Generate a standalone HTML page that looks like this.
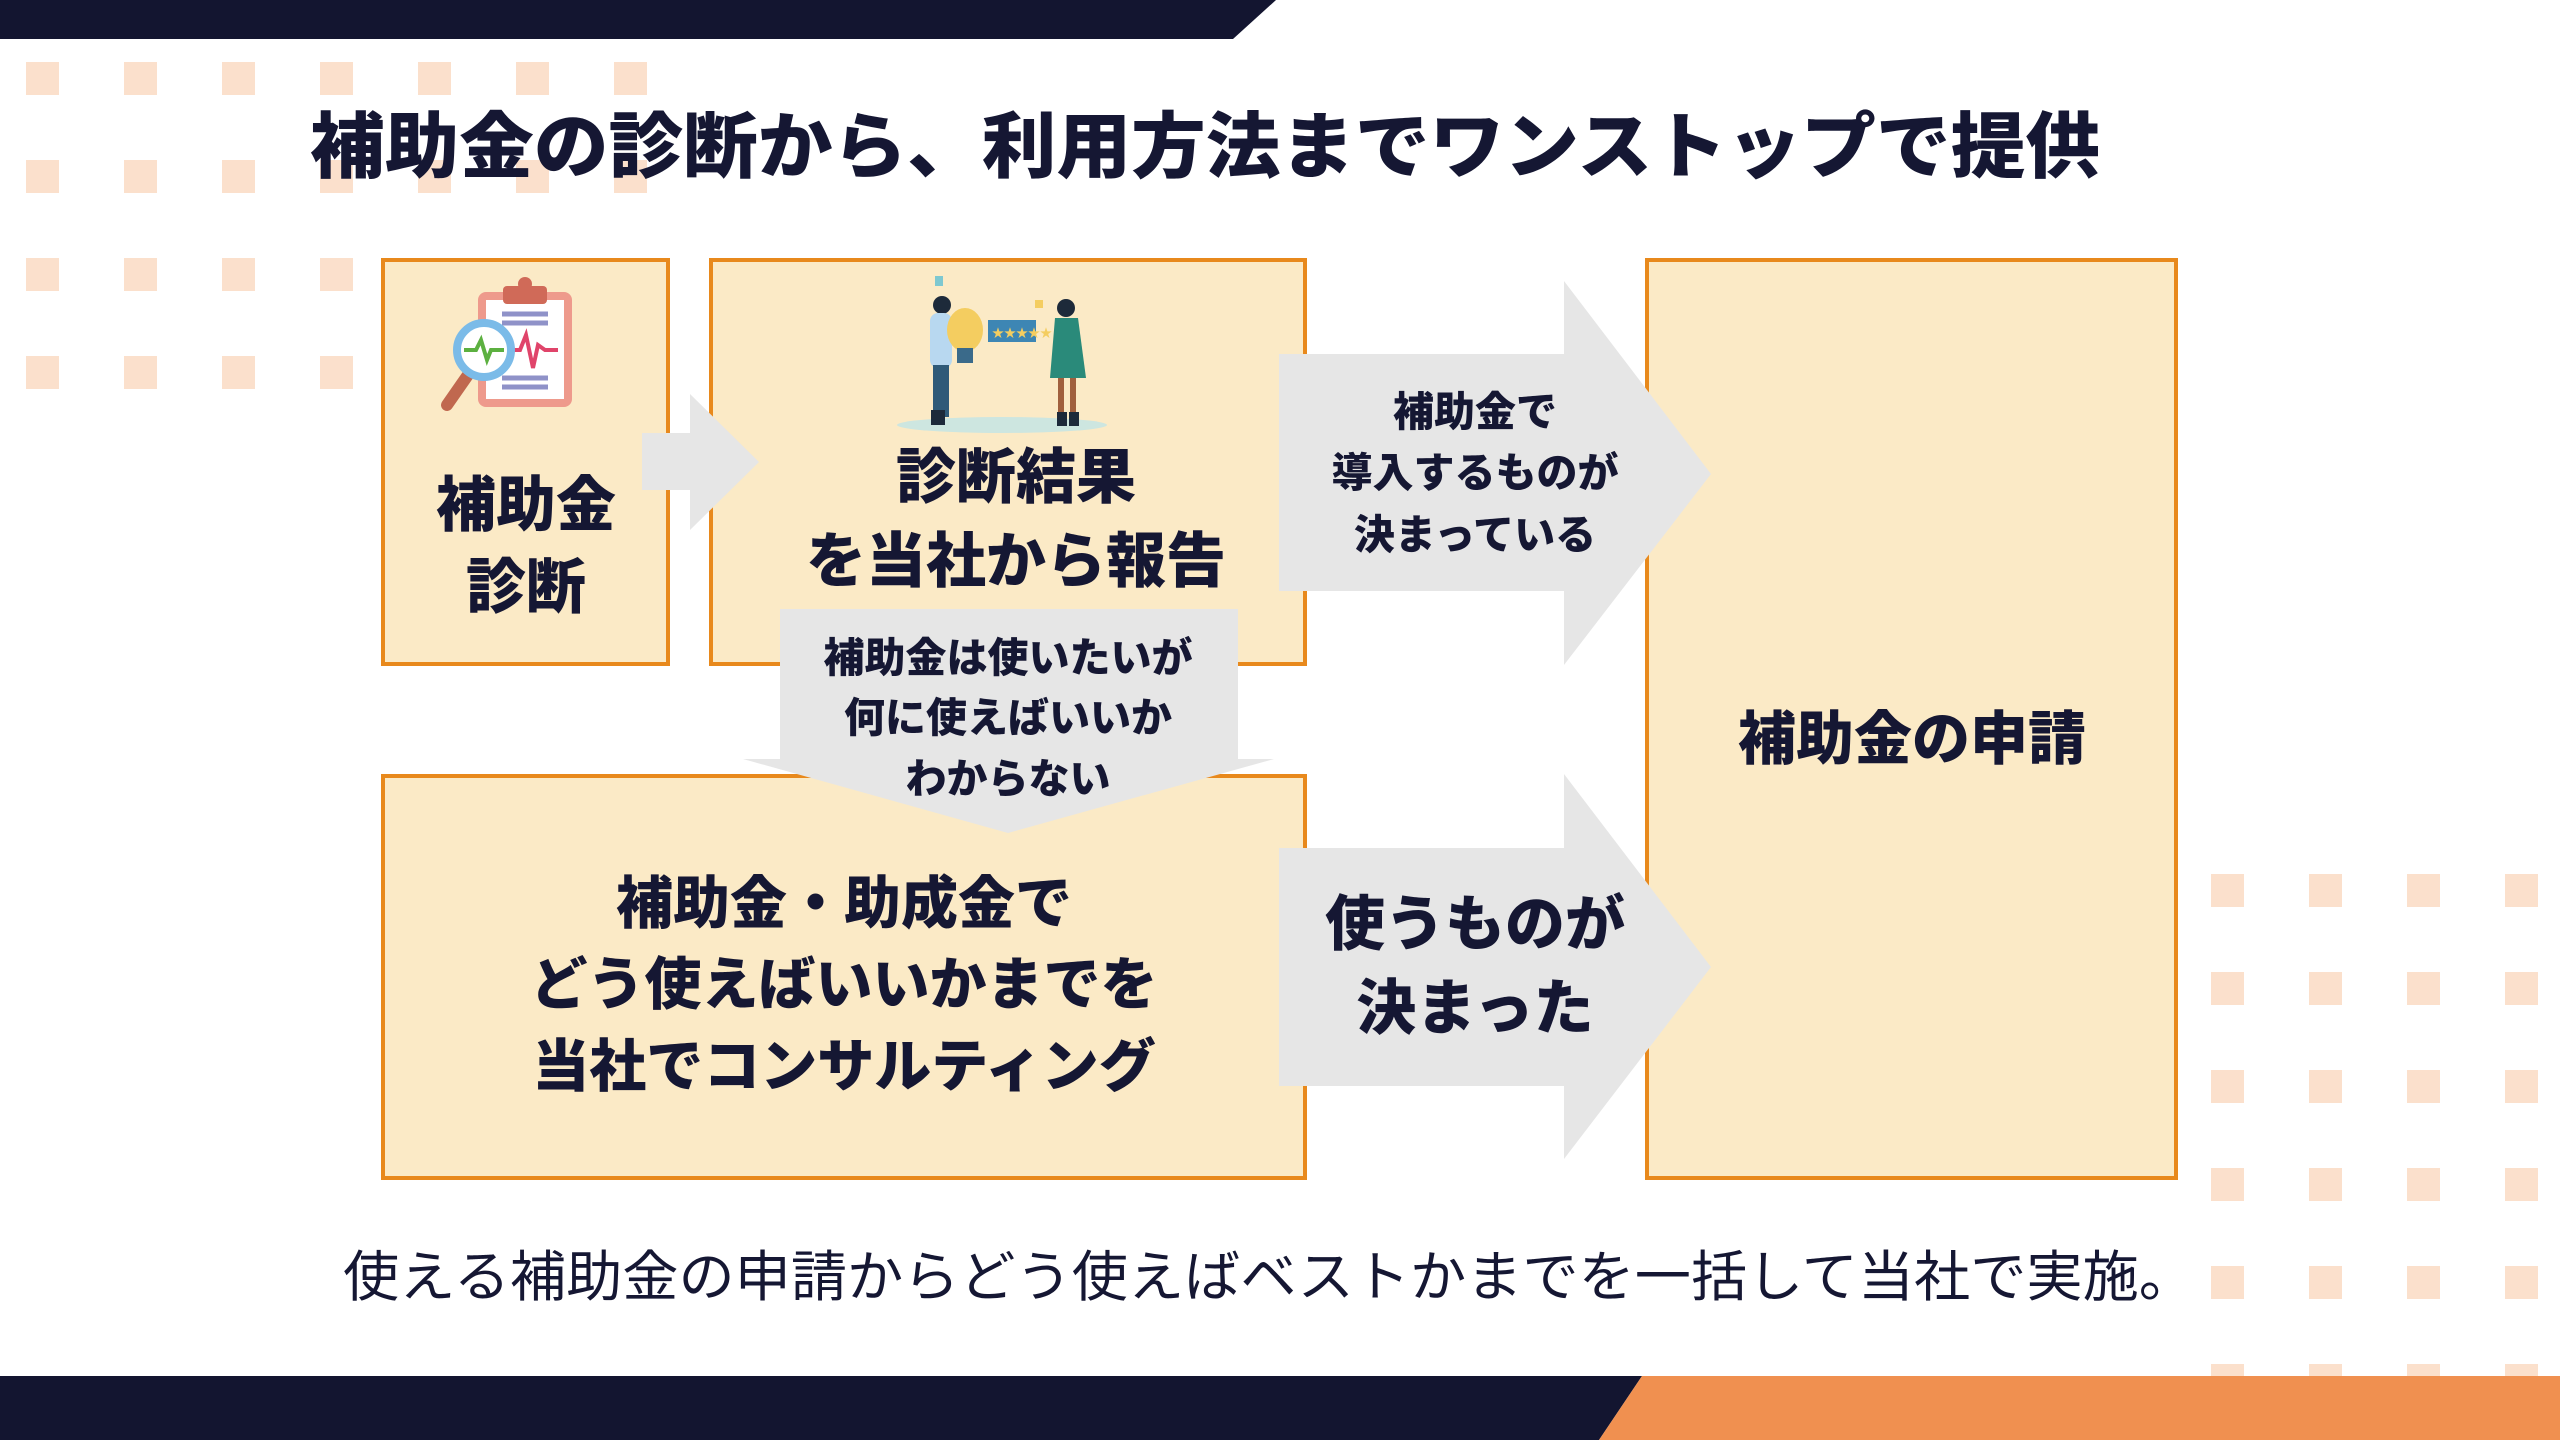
<!DOCTYPE html>
<html><head><meta charset="utf-8"><style>
html,body{margin:0;padding:0;background:#fff}
svg{display:block}
text{font-family:"Liberation Sans","Noto Sans CJK JP",sans-serif;fill:#151733}
.b{font-weight:900}
</style></head><body>
<svg width="2560" height="1440" viewBox="0 0 2560 1440" xmlns="http://www.w3.org/2000/svg">
<rect width="2560" height="1440" fill="#fff"/>
<polygon points="0,0 1276,0 1233,39 0,39" fill="#131530"/>
<g fill="#fbe0cc">
<rect x="26" y="62" width="33" height="33"/><rect x="124" y="62" width="33" height="33"/><rect x="222" y="62" width="33" height="33"/><rect x="320" y="62" width="33" height="33"/><rect x="418" y="62" width="33" height="33"/><rect x="516" y="62" width="33" height="33"/><rect x="614" y="62" width="33" height="33"/>
<rect x="26" y="160" width="33" height="33"/><rect x="124" y="160" width="33" height="33"/><rect x="222" y="160" width="33" height="33"/><rect x="320" y="160" width="33" height="33"/><rect x="418" y="160" width="33" height="33"/><rect x="516" y="160" width="33" height="33"/><rect x="614" y="160" width="33" height="33"/>
<rect x="26" y="258" width="33" height="33"/><rect x="124" y="258" width="33" height="33"/><rect x="222" y="258" width="33" height="33"/><rect x="320" y="258" width="33" height="33"/>
<rect x="26" y="356" width="33" height="33"/><rect x="124" y="356" width="33" height="33"/><rect x="222" y="356" width="33" height="33"/><rect x="320" y="356" width="33" height="33"/>
</g>
<g fill="#fbe0cc">
<rect x="2211" y="874" width="33" height="33"/><rect x="2309" y="874" width="33" height="33"/><rect x="2407" y="874" width="33" height="33"/><rect x="2505" y="874" width="33" height="33"/>
<rect x="2211" y="972" width="33" height="33"/><rect x="2309" y="972" width="33" height="33"/><rect x="2407" y="972" width="33" height="33"/><rect x="2505" y="972" width="33" height="33"/>
<rect x="2211" y="1070" width="33" height="33"/><rect x="2309" y="1070" width="33" height="33"/><rect x="2407" y="1070" width="33" height="33"/><rect x="2505" y="1070" width="33" height="33"/>
<rect x="2211" y="1168" width="33" height="33"/><rect x="2309" y="1168" width="33" height="33"/><rect x="2407" y="1168" width="33" height="33"/><rect x="2505" y="1168" width="33" height="33"/>
<rect x="2211" y="1266" width="33" height="33"/><rect x="2309" y="1266" width="33" height="33"/><rect x="2407" y="1266" width="33" height="33"/><rect x="2505" y="1266" width="33" height="33"/>
<rect x="2211" y="1364" width="33" height="33"/><rect x="2309" y="1364" width="33" height="33"/><rect x="2407" y="1364" width="33" height="33"/><rect x="2505" y="1364" width="33" height="33"/>
</g>
<text x="310" y="172" class="b" font-size="72" textLength="1790" lengthAdjust="spacingAndGlyphs">補助金の診断から、利用方法までワンストップで提供</text>
<g fill="#fbeac6" stroke="#e8891c" stroke-width="4">
<rect x="383" y="260" width="285" height="404"/>
<rect x="711" y="260" width="594" height="404"/>
<rect x="383" y="776" width="922" height="402"/>
<rect x="1647" y="260" width="529" height="918"/>
</g>
<g fill="#e6e6e6">
<polygon points="642,433 690,433 690,394 759,462 690,530 690,490 642,490"/>
<polygon points="1279,354 1564,354 1564,281 1711,474 1564,665 1564,591 1279,591"/>
<polygon points="1279,848 1564,848 1564,774 1711,967 1564,1159 1564,1086 1279,1086"/>
<polygon points="780,609 1238,609 1238,759 1274,759 1008,833 743,759 780,759"/>
</g>
<g>
<rect x="478" y="292" width="94" height="115" rx="8" fill="#ee9a8c"/>
<rect x="486" y="300" width="78" height="99" fill="#fff"/>
<rect x="503" y="286" width="44" height="18" rx="4" fill="#d06a58"/>
<circle cx="525" cy="284" r="7" fill="#d06a58"/>
<g stroke="#8f92c8" stroke-width="5"><line x1="502" y1="314" x2="548" y2="314"/><line x1="502" y1="323" x2="548" y2="323"/><line x1="502" y1="378" x2="548" y2="378"/><line x1="502" y1="387" x2="548" y2="387"/></g>
<polyline points="505,350 520,350 526,335 533,368 538,345 545,350 558,350" fill="none" stroke="#e0446a" stroke-width="4"/>
<line x1="470" y1="372" x2="447" y2="405" stroke="#c0684f" stroke-width="12" stroke-linecap="round"/>
<circle cx="484" cy="350" r="27" fill="#fff" stroke="#7bbbe8" stroke-width="8"/>
<polyline points="464,350 476,350 481,340 487,360 491,350 504,350" fill="none" stroke="#5cb040" stroke-width="4"/>
</g>
<g>
<ellipse cx="1002" cy="425" rx="105" ry="8" fill="#cde6e0"/>
<circle cx="942" cy="305" r="9" fill="#1d2a3a"/>
<rect x="930" y="313" width="22" height="55" rx="8" fill="#b8d8f0"/>
<rect x="933" y="365" width="16" height="52" fill="#2f5a78"/>
<rect x="931" y="410" width="14" height="15" fill="#1d2a3a"/>
<ellipse cx="965" cy="330" rx="18" ry="22" fill="#f4cd60"/>
<rect x="957" y="348" width="16" height="15" fill="#3a6a8a"/>
<rect x="988" y="320" width="48" height="22" fill="#3d86b4"/>
<text x="992" y="337" font-size="12" style="fill:#f4cd60">★★★★★</text>
<circle cx="1066" cy="308" r="9" fill="#1d2a3a"/>
<path d="M1055,318 L1078,318 L1086,378 L1050,378 Z" fill="#2a8a7a"/>
<rect x="1058" y="378" width="6" height="40" fill="#a0603e"/>
<rect x="1070" y="378" width="6" height="40" fill="#a0603e"/>
<rect x="1057" y="412" width="10" height="14" fill="#1d2a3a"/>
<rect x="1069" y="412" width="10" height="14" fill="#1d2a3a"/>
<rect x="935" y="276" width="8" height="10" fill="#7ec8d0"/>
<rect x="1035" y="300" width="8" height="8" fill="#f4cd60"/>
</g>
<g text-anchor="middle">
<text x="526" y="526" font-size="60" class="b">補助金</text>
<text x="526" y="608" font-size="60" class="b">診断</text>
<text x="1016" y="498" font-size="60" class="b">診断結果</text>
<text x="1016" y="582" font-size="60" class="b">を当社から報告</text>
<text x="1475" y="426" font-size="41" class="b">補助金で</text>
<text x="1475" y="487" font-size="41" class="b">導入するものが</text>
<text x="1475" y="549" font-size="41" class="b">決まっている</text>
<text x="1008" y="672" font-size="41" class="b">補助金は使いたいが</text>
<text x="1008" y="732" font-size="41" class="b">何に使えばいいか</text>
<text x="1008" y="793" font-size="41" class="b">わからない</text>
<text x="844" y="923" font-size="57" class="b">補助金・助成金で</text>
<text x="844" y="1004" font-size="57" class="b">どう使えばいいかまでを</text>
<text x="844" y="1086" font-size="57" class="b">当社でコンサルティング</text>
<text x="1475" y="945" font-size="60" class="b">使うものが</text>
<text x="1475" y="1029" font-size="60" class="b">決まった</text>
<text x="1912" y="759" font-size="58" class="b">補助金の申請</text>
</g>
<text x="343" y="1296" font-size="55" textLength="1852" lengthAdjust="spacingAndGlyphs">使える補助金の申請からどう使えばベストかまでを一括して当社で実施。</text>
<polygon points="0,1376 1642,1376 1599,1440 0,1440" fill="#131530"/>
<polygon points="1642,1376 2560,1376 2560,1440 1599,1440" fill="#f09050"/>
</svg>
</body></html>
